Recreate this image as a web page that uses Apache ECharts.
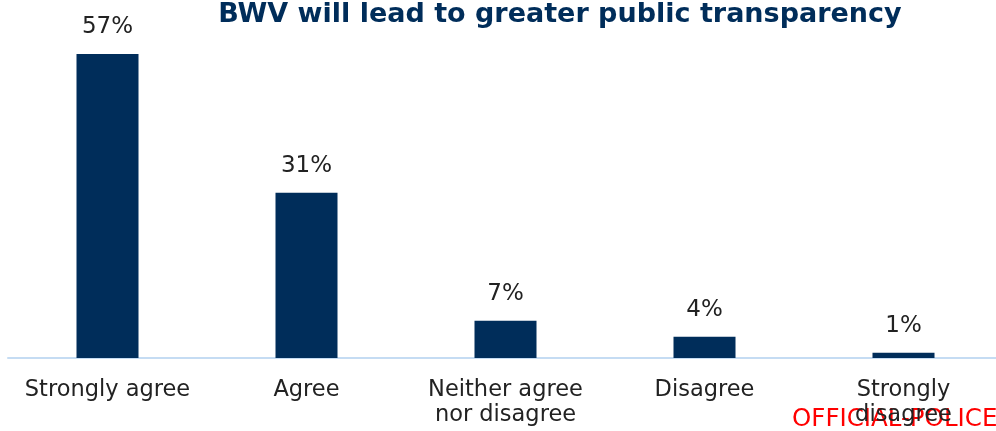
<!DOCTYPE html>
<html><head><meta charset="utf-8">
<script src="https://cdn.jsdelivr.net/npm/echarts@6/dist/echarts.min.js"></script>
<style>html,body{margin:0;padding:0;background:#fff;overflow:hidden}#c{width:1012px;height:431px}</style>
</head><body><div id="c"></div>
<script>
const titleText = "BWV will lead to greater public transparency";
const categories = ["Strongly agree", "Agree", "Neither agree\nnor disagree", "Disagree", "Strongly\ndisagree"];
const values = [57, 31, 7, 4, 1];
const markingText = "OFFICIAL-POLICE";

const chart = echarts.init(document.getElementById('c'));
chart.setOption({
  animation: false,
  title: {
    text: titleText, left: 555, top: -4, textAlign: 'center',
    textStyle: { fontFamily: 'DejaVu Sans', fontWeight: 'bold', fontSize: 27, color: '#002D5A' }
  },
  grid: { left: 8, top: 38, width: 995, height: 320, containLabel: false },
  xAxis: {
    type: 'category', data: categories,
    axisLine: { lineStyle: { color: '#C5DCF3', width: 2 } },
    axisTick: { show: false },
    axisLabel: { fontFamily: 'DejaVu Sans', fontSize: 22.5, color: '#222', margin: 20, lineHeight: 25, interval: 0 }
  },
  yAxis: { type: 'value', min: 0, max: 60, show: false, splitLine: { show: false } },
  series: [{
    type: 'bar', data: values, barWidth: 62,
    itemStyle: { color: '#002D5A' },
    label: { show: true, position: 'top', distance: 15, formatter: '{c}%', fontFamily: 'DejaVu Sans', fontSize: 23, color: '#222' }
  }],
  graphic: [{
    type: 'text', left: 792, top: 407,
    style: { text: markingText, fontFamily: 'DejaVu Sans', fontSize: 24.5, fill: '#FF0000' }
  }]
});
</script></body></html>
